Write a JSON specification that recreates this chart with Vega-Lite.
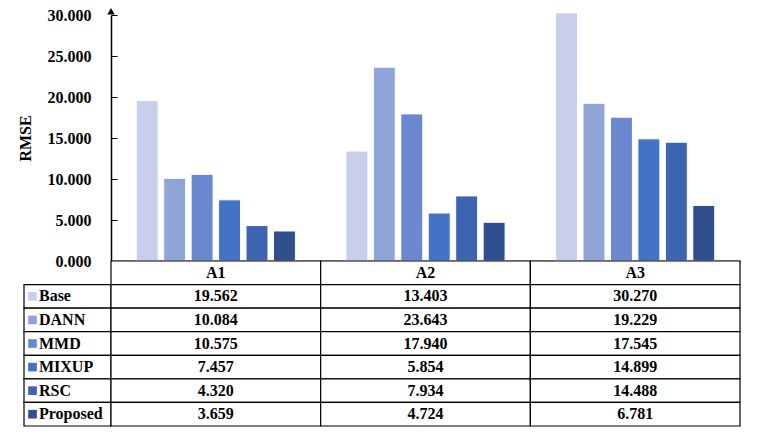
{
  "$schema": "https://vega.github.io/schema/vega-lite/v6.json",
  "background": "white",
  "padding": {"left": 17, "top": 7, "right": 0, "bottom": 0},
  "config": {
    "font": "Liberation Serif",
    "view": {"stroke": null},
    "text": {"font": "Liberation Serif", "fontWeight": "bold", "fontSize": 16, "color": "black"}
  },
  "datasets": {
    "rmse": [
      {"area": "A1", "method": "Base", "rmse": 19.562},
      {"area": "A1", "method": "DANN", "rmse": 10.084},
      {"area": "A1", "method": "MMD", "rmse": 10.575},
      {"area": "A1", "method": "MIXUP", "rmse": 7.457},
      {"area": "A1", "method": "RSC", "rmse": 4.320},
      {"area": "A1", "method": "Proposed", "rmse": 3.659},
      {"area": "A2", "method": "Base", "rmse": 13.403},
      {"area": "A2", "method": "DANN", "rmse": 23.643},
      {"area": "A2", "method": "MMD", "rmse": 17.940},
      {"area": "A2", "method": "MIXUP", "rmse": 5.854},
      {"area": "A2", "method": "RSC", "rmse": 7.934},
      {"area": "A2", "method": "Proposed", "rmse": 4.724},
      {"area": "A3", "method": "Base", "rmse": 30.270},
      {"area": "A3", "method": "DANN", "rmse": 19.229},
      {"area": "A3", "method": "MMD", "rmse": 17.545},
      {"area": "A3", "method": "MIXUP", "rmse": 14.899},
      {"area": "A3", "method": "RSC", "rmse": 14.488},
      {"area": "A3", "method": "Proposed", "rmse": 6.781}
    ],
    "head": [
      {"area": "A1", "method": ""},
      {"area": "A2", "method": ""},
      {"area": "A3", "method": ""}
    ]
  },
  "columns": 2,
  "spacing": 0,
  "bounds": "flush",
  "resolve": {"scale": {"x": "independent", "y": "independent"}},
  "concat": [
    {
      "width": 87,
      "height": 246,
      "data": {"values": []},
      "mark": "rule",
      "encoding": {}
    },
    {
      "width": 629,
      "height": 246,
      "data": {"name": "rmse"},
      "layer": [
        {
          "mark": {"type": "bar", "stroke": "white", "strokeWidth": 1},
          "encoding": {
            "x": {
              "field": "area", "type": "nominal",
              "scale": {"paddingInner": 0, "paddingOuter": 0},
              "axis": {"title": null, "labels": false, "ticks": false, "domainColor": "black", "domainWidth": 1.5}
            },
            "xOffset": {
              "field": "method", "type": "nominal",
              "sort": ["Base", "DANN", "MMD", "MIXUP", "RSC", "Proposed"],
              "scale": {"paddingInner": 0.2, "paddingOuter": 0.92}
            },
            "y": {
              "field": "rmse", "type": "quantitative",
              "scale": {"domain": [0, 30], "nice": false},
              "axis": {
                "title": "RMSE", "titleFontSize": 16, "titleFontWeight": "bold", "titleColor": "black",
                "titleFont": "Liberation Serif", "titlePadding": 14,
                "values": [0, 5, 10, 15, 20, 25, 30], "format": ".3f",
                "labelFont": "Liberation Serif", "labelFontSize": 16, "labelFontWeight": "bold", "labelColor": "black",
                "labelPadding": 26, "tickSize": -6, "tickColor": "black",
                "domainColor": "black", "domainWidth": 1.5, "grid": false
              }
            },
            "color": {
              "field": "method", "type": "nominal",
              "scale": {
                "domain": ["Base", "DANN", "MMD", "MIXUP", "RSC", "Proposed"],
                "range": ["#C8CFEA", "#8FA5D8", "#6A87CF", "#4472C4", "#3C64B0", "#2F4F8E"]
              },
              "legend": null
            }
          }
        },
        {
          "data": {"values": [{"area": "A1"}]},
          "mark": {"type": "point", "shape": "triangle-up", "filled": true, "color": "black", "size": 55, "opacity": 1},
          "encoding": {
            "x": {"field": "area", "type": "nominal", "bandPosition": 0},
            "y": {"datum": 30.45, "type": "quantitative"}
          }
        }
      ]
    },
    {
      "width": 87,
      "height": 165,
      "data": {"name": "rmse"},
      "transform": [{"filter": "datum.area == 'A1'"}],
      "encoding": {
        "y": {
          "field": "method", "type": "nominal",
          "scale": {"domain": ["", "Base", "DANN", "MMD", "MIXUP", "RSC", "Proposed"], "paddingInner": 0, "paddingOuter": 0},
          "axis": null
        }
      },
      "layer": [
        {
          "mark": {"type": "rect", "fill": "white", "stroke": "black", "strokeWidth": 1.2},
          "encoding": {
            "x": {"datum": 0, "type": "quantitative", "scale": {"domain": [0, 1]}, "axis": null},
            "x2": {"datum": 1}
          }
        },
        {
          "mark": {"type": "point", "shape": "square", "filled": true, "size": 75, "opacity": 1},
          "encoding": {
            "x": {"datum": 0.098, "type": "quantitative"},
            "color": {"field": "method", "type": "nominal", "legend": null}
          }
        },
        {
          "mark": {"type": "text", "align": "left", "baseline": "middle"},
          "encoding": {
            "x": {"datum": 0.172, "type": "quantitative"},
            "text": {"field": "method"}
          }
        }
      ]
    },
    {
      "width": 629,
      "height": 165,
      "encoding": {
        "x": {"field": "area", "type": "nominal", "scale": {"paddingInner": 0, "paddingOuter": 0}, "axis": null},
        "y": {
          "field": "method", "type": "nominal",
          "scale": {"domain": ["", "Base", "DANN", "MMD", "MIXUP", "RSC", "Proposed"], "paddingInner": 0, "paddingOuter": 0},
          "axis": null
        }
      },
      "layer": [
        {
          "data": {"name": "head"},
          "mark": {"type": "rect", "fill": "white", "stroke": "black", "strokeWidth": 1.2}
        },
        {
          "data": {"name": "rmse"},
          "mark": {"type": "rect", "fill": "white", "stroke": "black", "strokeWidth": 1.2}
        },
        {
          "data": {"name": "head"},
          "mark": {"type": "text", "baseline": "middle"},
          "encoding": {"text": {"field": "area"}}
        },
        {
          "data": {"name": "rmse"},
          "mark": {"type": "text", "baseline": "middle"},
          "encoding": {"text": {"field": "rmse", "type": "quantitative", "format": ".3f"}}
        }
      ]
    }
  ]
}
